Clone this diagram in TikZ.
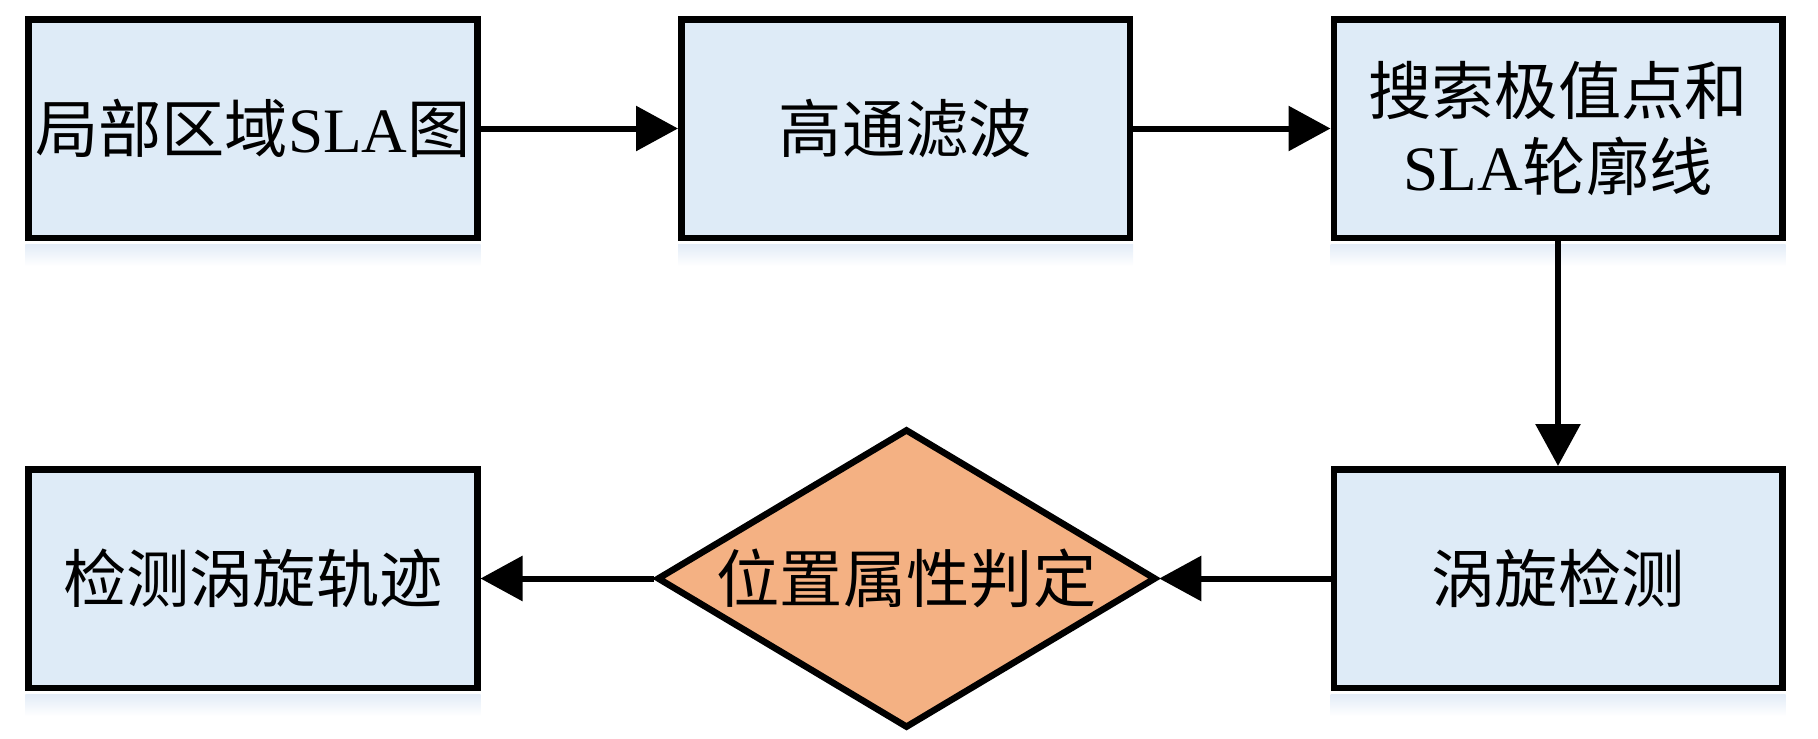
\documentclass[tikz,border=0pt]{standalone}
\usepackage{fontspec}
\setmainfont{Liberation Serif}
\newfontfamily\cjk{Noto Sans CJK SC}
\usetikzlibrary{arrows.meta,shapes.geometric}
\definecolor{boxblue}{HTML}{DEEBF7}
\definecolor{judgeorange}{HTML}{F4B183}
\definecolor{glowblue}{HTML}{E3ECF7}

\begin{document}
\begin{tikzpicture}[
	stepbox/.style={draw, line width=0.065cm, fill=boxblue, minimum width=4.485cm, minimum height=2.185cm, inner sep=0pt, align=center, font=\fontsize{18}{21.5}\selectfont\cjk},
	judge/.style={diamond, draw, line width=0.065cm, fill=judgeorange, minimum width=4.99cm, minimum height=2.99cm, shape aspect=1.7, inner sep=0pt, font=\fontsize{18}{21.5}\selectfont\cjk},
	flow/.style={line width=0.06cm, -{Triangle[length=0.42cm,width=0.44cm]}}
	]

	\useasboundingbox (0,0) rectangle (18.18,7.38);

	% top row
	\node [stepbox] (local) at (2.53,6.095) {局部区域{\rmfamily SLA}图};
	\node [stepbox] (filter) at (9.055,6.095) {高通滤波};
	\node [stepbox] (search) at (15.58,6.095) {搜索极值点和\\{\rmfamily SLA}轮廓线};

	% bottom row
	\node [stepbox] (track) at (2.53,1.595) {检测涡旋轨迹};
	\node [judge] (position) at (9.065,1.595) {位置属性判定};
	\node [stepbox] (eddy) at (15.58,1.595) {涡旋检测};

	% soft shadows
	\foreach \b in {local,filter,search,track,eddy}
		\shade [top color=glowblue, bottom color=white] ([yshift=-0.035cm]\b.south west) rectangle ([yshift=-0.25cm]\b.south east);

	% connectors
	\draw [flow] (local) -- (filter);
	\draw [flow] (filter) -- (search);
	\draw [flow] (search) -- (eddy);
	\draw [flow] (eddy) -- (position.east);
	\draw [flow] (position.west) -- (track);

\end{tikzpicture}
\end{document}
